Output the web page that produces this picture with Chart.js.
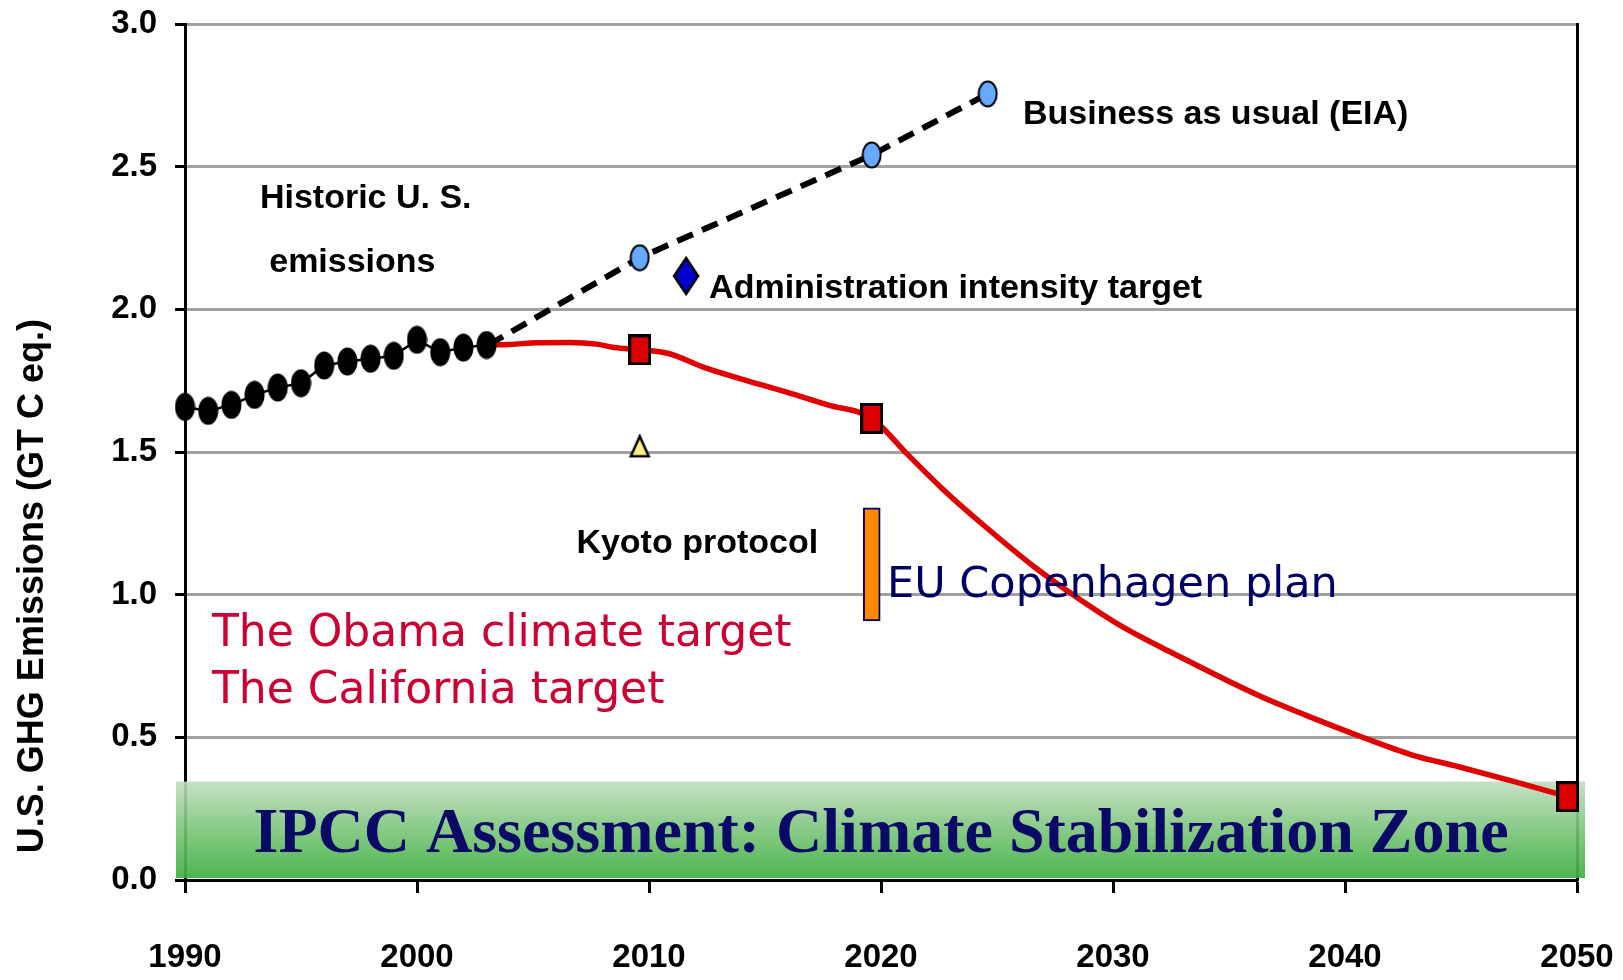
<!DOCTYPE html>
<html>
<head>
<meta charset="utf-8">
<script src="https://cdn.jsdelivr.net/npm/chart.js@4/dist/chart.umd.min.js"></script>
<style>
  body { margin: 0; background: #fff; }
  #chart { display: block; }
</style>
</head>
<body>
<canvas id="chart" width="1623" height="980"></canvas>
<script>
// historic U.S. emissions (black dots)
const historicYears = [1990, 1991, 1992, 1993, 1994, 1995, 1996, 1997, 1998, 1999, 2000, 2001, 2002, 2003];
const historicValues = [1.658, 1.644, 1.665, 1.700, 1.726, 1.741, 1.803, 1.817, 1.827, 1.837, 1.893, 1.850, 1.866, 1.875];

// business as usual (EIA) projection
const bauYears = [2003.07, 2009.6, 2019.6, 2024.6];
const bauValues = [1.875, 2.181, 2.541, 2.755];

// red target path
const targetYears = [2003.07, 2004.0, 2005.2, 2006.6, 2007.75, 2008.5, 2009.6, 2010.8, 2012.5, 2014.35, 2015.9, 2017.7, 2019.6,
  2021.1, 2022.7, 2024.5, 2026.6, 2028.4, 2030.4, 2032.6, 2036.4, 2038.3, 2040.7, 2042.9, 2044.9, 2047.3, 2049.6];
const targetValues = [1.875, 1.877, 1.883, 1.884, 1.878, 1.866, 1.858, 1.846, 1.793, 1.747, 1.711, 1.665, 1.618,
  1.495, 1.367, 1.238, 1.098, 0.993, 0.888, 0.794, 0.642, 0.578, 0.502, 0.438, 0.397, 0.345, 0.292];
const targetMarkYears = [2009.6, 2019.6, 2049.6];
const targetMarkValues = [1.858, 1.618, 0.292];

const adminYear = [2011.6];
const adminValue = [2.117];
const kyotoYear = [2009.6];
const kyotoValue = [1.52];
const euYear = 2019.6;
const euRange = [0.908, 1.304];

const stabilizationTop = 0.345;

const xTicks = [1990, 2000, 2010, 2020, 2030, 2040, 2050];
const yTicks = [0.0, 0.5, 1.0, 1.5, 2.0, 2.5, 3.0];

// marker images
function makeMarker(w, h, drawShape) {
  const c = document.createElement('canvas');
  c.width = w; c.height = h;
  drawShape(c.getContext('2d'), w, h);
  return c;
}
const blackDot = makeMarker(21, 29, (g, w, h) => {
  g.beginPath(); g.ellipse(w / 2, h / 2, w / 2 - 0.5, h / 2 - 0.5, 0, 0, Math.PI * 2);
  g.fillStyle = '#000'; g.fill();
});
const blueDot = makeMarker(21, 28, (g, w, h) => {
  g.beginPath(); g.ellipse(w / 2, h / 2, w / 2 - 1.5, h / 2 - 1.5, 0, 0, Math.PI * 2);
  g.fillStyle = '#66aaff'; g.fill();
  g.lineWidth = 2; g.strokeStyle = '#000'; g.stroke();
});
const redSquare = makeMarker(23, 31, (g, w, h) => {
  g.fillStyle = '#dd0000'; g.fillRect(1.5, 1.5, w - 3, h - 3);
  g.lineWidth = 3; g.strokeStyle = '#000'; g.strokeRect(1.5, 1.5, w - 3, h - 3);
});
const diamond = makeMarker(28, 40, (g, w, h) => {
  g.beginPath(); g.moveTo(w / 2, 2); g.lineTo(w - 2, h / 2); g.lineTo(w / 2, h - 2); g.lineTo(2, h / 2); g.closePath();
  g.fillStyle = '#0000cc'; g.fill();
  g.lineWidth = 2.5; g.strokeStyle = '#000'; g.stroke();
});
const triangle = makeMarker(22, 24, (g, w, h) => {
  g.beginPath(); g.moveTo(w / 2, 2); g.lineTo(w - 2, h - 2); g.lineTo(2, h - 2); g.closePath();
  g.fillStyle = '#ffee88'; g.fill();
  g.lineWidth = 2.5; g.strokeStyle = '#000'; g.stroke();
});

const zip = (xs, ys) => xs.map((x, i) => ({ x: x, y: ys[i] }));

const bold = (size) => 'bold ' + size + 'px "Liberation Sans", Arial, sans-serif';

// background zone, labels and y title
const decorations = {
  id: 'decorations',
  beforeDatasetsDraw(chart) {
    const { ctx, chartArea, scales } = chart;
    const top = scales.y.getPixelForValue(stabilizationTop);
    const bottom = scales.y.getPixelForValue(0) - 2;
    const grad = ctx.createLinearGradient(0, top, 0, bottom);
    grad.addColorStop(0, 'rgba(192,220,192,0.9)');
    grad.addColorStop(0.5, 'rgba(122,196,122,0.9)');
    grad.addColorStop(1, 'rgba(62,176,62,0.92)');
    ctx.save();
    ctx.fillStyle = grad;
    ctx.fillRect(chartArea.left - 9, top, chartArea.right - chartArea.left + 17, bottom - top);
    ctx.restore();
  },
  afterDatasetsDraw(chart) {
    const { ctx, scales } = chart;
    const px = v => scales.x.getPixelForValue(v);
    const py = v => scales.y.getPixelForValue(v);
    const text = (s, x, y, font, color, align) => {
      ctx.font = font;
      ctx.fillStyle = color;
      ctx.textAlign = align || 'left';
      ctx.textBaseline = 'alphabetic';
      ctx.fillText(s, px(x), py(y));
    };
    ctx.save();
    text('Business as usual (EIA)', 2026.12, 2.650, bold(34), '#000');
    text('Historic U. S.', 1993.23, 2.356, bold(34), '#000');
    text('emissions', 1993.63, 2.132, bold(34), '#000');
    text('Administration intensity target', 2012.59, 2.040, bold(34), '#000');
    text('Kyoto protocol', 2006.87, 1.146, bold(34), '#000');
    text('EU Copenhagen plan', 2020.26, 0.992, '43px "DejaVu Sans", sans-serif', '#000066');
    text('The Obama climate target', 1991.16, 0.820, '44px "DejaVu Sans", sans-serif', '#cc0033');
    text('The California target', 1991.16, 0.620, '44px "DejaVu Sans", sans-serif', '#cc0033');
    text('IPCC Assessment: Climate Stabilization Zone', 2020.0, 0.098, 'bold 64px "Liberation Serif", "Times New Roman", serif', '#0a0a66', 'center');

    // y axis title
    ctx.translate(33, py(1.03));
    ctx.rotate(-Math.PI / 2);
    ctx.font = bold(36);
    ctx.fillStyle = '#000';
    ctx.textAlign = 'center';
    ctx.textBaseline = 'middle';
    ctx.fillText('U.S. GHG Emissions (GT C eq.)', 0, 0);
    ctx.restore();
  }
};

new Chart(document.getElementById('chart'), {
  type: 'line',
  data: {
    datasets: [
      {
        label: 'Historic U.S. emissions',
        data: zip(historicYears, historicValues),
        borderColor: '#000', borderWidth: 2.5,
        pointStyle: blackDot, pointRadius: 8,
        clip: false, order: 1
      },
      {
        label: 'Red markers',
        data: zip(targetMarkYears, targetMarkValues),
        showLine: false,
        pointStyle: redSquare, pointRadius: 8,
        clip: false, order: 0
      },
      {
        label: 'Administration intensity target',
        data: zip(adminYear, adminValue),
        showLine: false,
        pointStyle: diamond, pointRadius: 8,
        clip: false, order: 0
      },
      {
        label: 'Kyoto protocol',
        data: zip(kyotoYear, kyotoValue),
        showLine: false,
        pointStyle: triangle, pointRadius: 8,
        clip: false, order: 0
      },
      {
        label: 'Business as usual (EIA)',
        data: zip(bauYears, bauValues),
        borderColor: '#000', borderWidth: 6, borderDash: [17, 10],
        pointStyle: blueDot, pointRadius: [0, 8, 8, 8],
        clip: false, order: 2
      },
      {
        label: 'Target path',
        data: zip(targetYears, targetValues),
        borderColor: '#e00000', borderWidth: 5.5,
        cubicInterpolationMode: 'monotone',
        pointRadius: 0,
        clip: false, order: 3
      },
      {
        type: 'bar',
        label: 'EU Copenhagen plan',
        data: [{ x: euYear, y: euRange }],
        backgroundColor: '#ff8800', borderColor: '#000066', borderWidth: 2,
        borderSkipped: false, barThickness: 17,
        order: 4
      }
    ]
  },
  options: {
    responsive: false,
    animation: false,
    events: [],
    layout: { padding: { left: 0, top: 24, right: 46, bottom: 0 } },
    plugins: { legend: { display: false }, tooltip: { enabled: false } },
    scales: {
      x: {
        type: 'linear',
        min: 1990, max: 2050,
        offset: false,
        afterBuildTicks: s => { s.ticks = xTicks.map(v => ({ value: v })); },
        afterFit: s => { s.height = 100; s.paddingLeft = 0; s.paddingRight = 0; },
        grid: { display: true, offset: false, drawOnChartArea: false, tickLength: 13, tickColor: '#000', tickWidth: 3 },
        border: { display: true, color: '#000', width: 3 },
        ticks: {
          padding: 45, color: '#000',
          font: { family: '"Liberation Sans", Arial, sans-serif', size: 33, weight: 'bold' },
          maxRotation: 0,
          callback: v => String(v)
        }
      },
      y: {
        type: 'linear',
        min: 0, max: 3,
        afterBuildTicks: s => { s.ticks = yTicks.map(v => ({ value: v })); },
        afterFit: s => { s.width = 185; s.paddingTop = 0; s.paddingBottom = 0; },
        grid: { color: '#a0a0a0', lineWidth: 3, tickLength: 10, tickColor: '#000', tickWidth: 3 },
        border: { display: true, color: '#000', width: 3 },
        ticks: {
          padding: 18, color: '#000',
          font: { family: '"Liberation Sans", Arial, sans-serif', size: 33, weight: 'bold' },
          callback: v => v.toFixed(1)
        }
      },
      y2: {
        type: 'linear', position: 'right',
        min: 0, max: 3,
        afterFit: s => { s.width = 0; s.paddingTop = 0; s.paddingBottom = 0; },
        grid: { display: false },
        ticks: { display: false },
        border: { display: true, color: '#000', width: 3 }
      }
    }
  },
  plugins: [decorations]
});
</script>
</body>
</html>
